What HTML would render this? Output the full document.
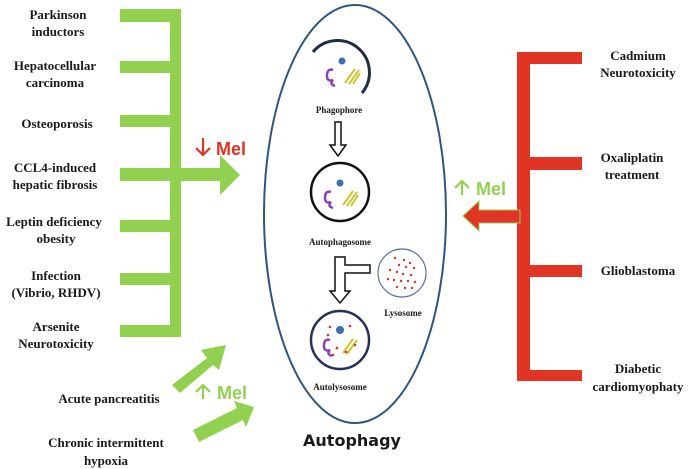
<!DOCTYPE html>
<html><head><meta charset="utf-8"><style>
html,body{margin:0;padding:0;background:#fff;}
svg{display:block;}
.t{font-family:"Liberation Serif",serif;font-weight:bold;font-size:13px;fill:#1a1a1a;text-anchor:middle;}
.s{font-family:"Liberation Serif",serif;font-weight:bold;font-size:9px;fill:#1a1a1a;text-anchor:middle;}
.m{font-family:"Liberation Sans",sans-serif;font-weight:bold;font-size:18px;}
</style></head><body>
<svg width="692" height="469" viewBox="0 0 692 469" xmlns="http://www.w3.org/2000/svg">
<g fill="#92d050">
<rect x="170" y="9" width="11" height="328"/>
<rect x="120" y="9" width="61" height="13"/>
<rect x="120" y="61" width="61" height="12"/>
<rect x="120" y="115" width="61" height="12"/>
<rect x="120" y="220" width="61" height="12"/>
<rect x="120" y="273" width="61" height="12"/>
<rect x="120" y="325" width="61" height="12"/>
<polygon points="120,168 220,168 220,155 240,175 220,195 220,181 120,181"/>
<polygon points="172,385 207,358 201,350 226,345 219,370 213,365 180,393"/>
<polygon points="193,430 237,408 234,401 254,407 246,427 243,420 199,442"/>
</g>
<g stroke="#e03425" stroke-width="2.2" fill="none"><path d="M203,138 V155 M196,148 L203,155 L210,148"/></g>
<text class="m" x="216" y="155" fill="#e03425">Mel</text>
<g stroke="#92d050" stroke-width="2.2" fill="none"><path d="M203,399 V385 M196,392 L203,385 L210,392"/></g>
<text class="m" x="217" y="399" fill="#92d050">Mel</text>
<text class="t" x="58" y="19">Parkinson</text>
<text class="t" x="58" y="36">inductors</text>
<text class="t" x="55" y="70">Hepatocellular</text>
<text class="t" x="55" y="87">carcinoma</text>
<text class="t" x="57" y="128">Osteoporosis</text>
<text class="t" x="55" y="172">CCL4-induced</text>
<text class="t" x="55" y="189">hepatic fibrosis</text>
<text class="t" x="54" y="226">Leptin deficiency</text>
<text class="t" x="56" y="243">obesity</text>
<text class="t" x="56" y="280">Infection</text>
<text class="t" x="56" y="297">(Vibrio, RHDV)</text>
<text class="t" x="56" y="331">Arsenite</text>
<text class="t" x="56" y="348">Neurotoxicity</text>
<text class="t" x="109" y="403">Acute pancreatitis</text>
<text class="t" x="106" y="447">Chronic intermittent</text>
<text class="t" x="106" y="465">hypoxia</text>
<ellipse cx="355" cy="214" rx="91" ry="209" fill="none" stroke="#2f5581" stroke-width="2"/>
<text x="352" y="446" font-family="DejaVu Sans,Liberation Sans,sans-serif" font-weight="bold" font-size="16" text-anchor="middle" fill="#1a1a1a">Autophagy</text>
<path d="M313,52 A29,29 0 0 1 362,93" fill="none" stroke="#1f2f3f" stroke-width="3"/>
<circle cx="342" cy="61" r="3.5" fill="#3a6fb0"/>
<path d="M333,70 q-6,-2 -6,6 q0,6 6,4 q-4,4 2,6" fill="none" stroke="#8a3fb5" stroke-width="2.5"/>
<path d="M345,83 l10,-14 M349,84 l10,-14 M353,84 l7,-11" stroke="#c8c830" stroke-width="2"/>
<text class="s" x="339" y="113">Phagophore</text>
<polygon points="335,122 341,122 341,145 346,145 338,156 330,145 335,145" fill="#fff" stroke="#111" stroke-width="1.5"/>
<circle cx="340" cy="192" r="29" fill="#fff" stroke="#111" stroke-width="2.5"/>
<circle cx="340" cy="183" r="3.5" fill="#3a6fb0"/>
<path d="M331,192 q-6,-2 -6,6 q0,6 6,4 q-4,4 2,6" fill="none" stroke="#8a3fb5" stroke-width="2.5"/>
<path d="M343,205 l10,-14 M347,206 l10,-14 M351,206 l7,-11" stroke="#c8c830" stroke-width="2"/>
<text class="s" x="340" y="245">Autophagosome</text>
<polygon points="335,257 345,257 345,265 370,265 370,273 345,273 345,291 350,291 340,303 330,291 335,291" fill="#fff" stroke="#111" stroke-width="1.5"/>
<circle cx="402" cy="273" r="24" fill="#fff" stroke="#6070a0" stroke-width="1.2"/>
<g fill="#e03020">
<circle cx="395" cy="258" r="1.2"/><circle cx="404" cy="260" r="1.2"/><circle cx="410" cy="263" r="1.2"/><circle cx="399" cy="265" r="1.2"/><circle cx="406" cy="267" r="1.2"/><circle cx="414" cy="268" r="1.2"/><circle cx="390" cy="270" r="1.2"/><circle cx="397" cy="272" r="1.2"/><circle cx="403" cy="274" r="1.2"/><circle cx="411" cy="275" r="1.2"/><circle cx="388" cy="279" r="1.2"/><circle cx="394" cy="280" r="1.2"/><circle cx="401" cy="281" r="1.2"/><circle cx="408" cy="281" r="1.2"/><circle cx="415" cy="282" r="1.2"/><circle cx="397" cy="287" r="1.2"/><circle cx="405" cy="288" r="1.2"/><circle cx="412" cy="288" r="1.2"/>
</g>
<text class="s" x="403" y="316">Lysosome</text>
<circle cx="340" cy="340" r="29" fill="#fff" stroke="#2a2f5a" stroke-width="2.5"/>
<circle cx="340" cy="330" r="4" fill="#3a6fb0"/>
<path d="M330,340 q-6,-2 -6,6 q0,6 6,4 q-4,4 2,6" fill="none" stroke="#8a3fb5" stroke-width="2.5"/>
<path d="M343,353 l10,-14 M347,354 l10,-14" stroke="#c8c830" stroke-width="2"/>
<g fill="#e03020"><circle cx="330" cy="327" r="1.3"/><circle cx="350" cy="326" r="1.3"/><circle cx="328" cy="335" r="1.3"/><circle cx="337" cy="348" r="1.3"/><circle cx="355" cy="345" r="1.3"/><circle cx="346" cy="352" r="1.3"/><circle cx="333" cy="355" r="1.3"/></g>
<text class="s" x="340" y="390">Autolysosome</text>
<g fill="#e03425">
<rect x="517" y="52" width="13" height="329"/>
<rect x="517" y="52" width="65" height="12"/>
<rect x="517" y="157" width="65" height="13"/>
<rect x="517" y="265" width="65" height="12"/>
<rect x="517" y="370" width="65" height="11"/>
</g>
<polygon points="520,210 479,210 479,201 463,216 479,231 479,223 520,223" fill="#e03425" stroke="#92d050" stroke-width="1"/>
<g stroke="#92d050" stroke-width="2.2" fill="none"><path d="M462,195 V181 M455,188 L462,181 L469,188"/></g>
<text class="m" x="476" y="195" fill="#92d050">Mel</text>
<text class="t" x="638" y="60">Cadmium</text>
<text class="t" x="638" y="77">Neurotoxicity</text>
<text class="t" x="632" y="162">Oxaliplatin</text>
<text class="t" x="632" y="179">treatment</text>
<text class="t" x="638" y="275">Glioblastoma</text>
<text class="t" x="638" y="373">Diabetic</text>
<text class="t" x="638" y="391">cardiomyophaty</text>
</svg>
</body></html>
